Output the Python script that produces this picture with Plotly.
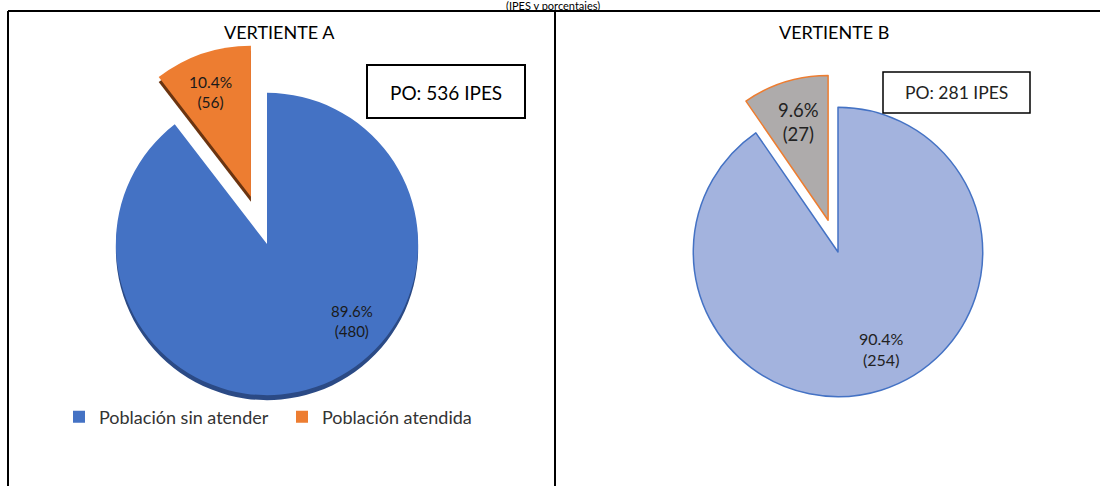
import plotly.graph_objects as go

W, H = 1100, 487

categories = ["Población sin atender", "Población atendida"]
values_a = [480, 56]
pct_a = [89.6, 10.4]
values_b = [254, 27]
pct_b = [90.4, 9.6]
total_a = 536
total_b = 281
panel_titles = ["VERTIENTE A", "VERTIENTE B"]
subtitle = "(IPES y porcentajes)"

FONT = "Lato, Open Sans, sans-serif"


def px_x(x):
    return x / W


def px_y(y):
    return 1 - y / H


def dom(cx, cy, half, dy=0):
    return dict(x=[px_x(cx - half), px_x(cx + half)],
                y=[px_y(cy + dy + half), px_y(cy + dy - half)])


fig = go.Figure()

# Panel A: 3D-like rim (shadow) then main pie
ca = (267, 244)
ha = 201
pull_a = [0, 0.33]
fig.add_trace(go.Pie(
    labels=categories, values=values_a, sort=False, direction="clockwise",
    rotation=0, pull=pull_a, domain=dom(*ca, ha, dy=5),
    marker=dict(colors=["#2B4A85", "#6B3410"], line=dict(width=0)),
    textinfo="none", hoverinfo="skip", showlegend=False,
))
fig.add_trace(go.Pie(
    labels=categories, values=values_a, sort=False, direction="clockwise",
    rotation=0, pull=pull_a, domain=dom(*ca, ha),
    marker=dict(colors=["#4472C4", "#ED7D31"], line=dict(width=0)),
    textinfo="none", legend="legend",
))

# Panel B
cb = (838, 252)
hb = 178
fig.add_trace(go.Pie(
    labels=categories, values=values_b, sort=False, direction="clockwise",
    rotation=0, pull=[0, 0.23], domain=dom(*cb, hb),
    marker=dict(colors=["#A3B3DE", "#AEABAB"],
                line=dict(color=["#4472C4", "#ED7D31"], width=1.5)),
    textinfo="none", legend="legend2",
))


def ann(text, x, y, size, color="#000"):
    return dict(text=text, x=px_x(x), y=px_y(y), xref="paper", yref="paper",
                xanchor="center", yanchor="middle", showarrow=False,
                font=dict(size=size, color=color))


annotations = [
    ann(subtitle, 553, 6, 11),
    ann(panel_titles[0], 280, 32, 18),
    ann(panel_titles[1], 834, 32, 18),
    ann(f"PO: {total_a} IPES", 446, 92, 19),
    ann(f"PO: {total_b} IPES", 956, 92, 17.5, "#222"),
    ann(f"{pct_a[0]}%<br>({values_a[0]})", 352, 321, 15, "#1a1a1a"),
    ann(f"{pct_a[1]}%<br>({values_a[1]})", 211, 92, 15.5, "#1a1a1a"),
    ann(f"{pct_b[0]}%<br>({values_b[0]})", 882, 349, 16, "#222"),
    ann(f"{pct_b[1]}%<br>({values_b[1]})", 798, 122, 18.5, "#222"),
]

shapes = [
    # panel frames
    dict(type="line", x0=px_x(8), x1=px_x(1100), y0=px_y(11), y1=px_y(11),
         line=dict(color="#000", width=2)),
    dict(type="line", x0=px_x(8), x1=px_x(8), y0=px_y(11), y1=px_y(486),
         line=dict(color="#000", width=2)),
    dict(type="line", x0=px_x(555), x1=px_x(555), y0=px_y(11), y1=px_y(486),
         line=dict(color="#000", width=2)),
    # PO boxes
    dict(type="rect", x0=px_x(367), x1=px_x(525), y0=px_y(65), y1=px_y(118),
         line=dict(color="#000", width=2), fillcolor="rgba(255,255,255,0)"),
    dict(type="rect", x0=px_x(883), x1=px_x(1030), y0=px_y(72), y1=px_y(113),
         line=dict(color="#000", width=1.5), fillcolor="rgba(255,255,255,0)"),
]

fig.update_layout(
    width=W, height=H,
    margin=dict(l=0, r=0, t=0, b=0),
    paper_bgcolor="white", plot_bgcolor="white",
    font=dict(family=FONT, size=15, color="#333"),
    annotations=annotations, shapes=shapes,
    legend=dict(orientation="h", x=px_x(59), y=px_y(417), xanchor="left", yanchor="middle",
                font=dict(size=18, color="#333"), entrywidth=178, traceorder="normal",
                bgcolor="rgba(0,0,0,0)"),
    legend2=dict(orientation="h", x=px_x(620), y=px_y(441), xanchor="left", yanchor="middle",
                 font=dict(size=18, color="#333"), entrywidth=181, traceorder="normal",
                 bgcolor="rgba(0,0,0,0)"),
)

fig.write_html("out.html", config={"displayModeBar": False},
               post_script="document.body.style.margin='0px';")
